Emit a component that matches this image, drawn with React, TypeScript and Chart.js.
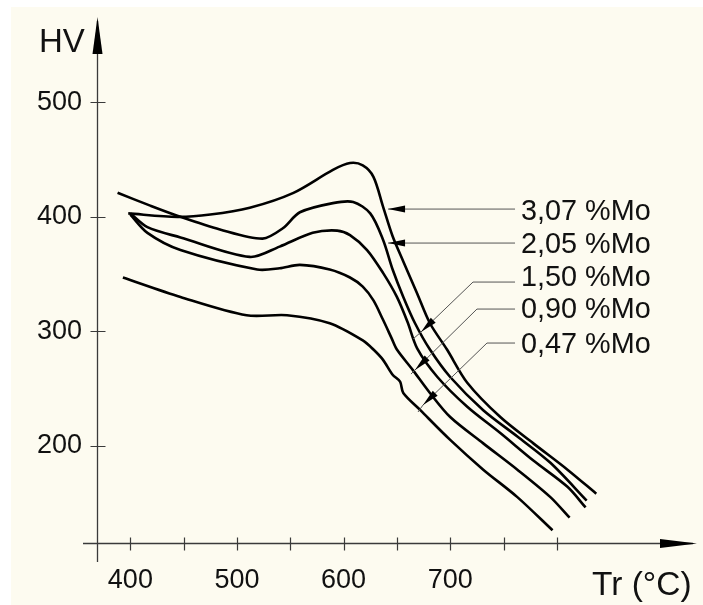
import React, { useEffect, useRef } from "react";
import { Chart, registerables } from "chart.js";

Chart.register(...registerables);

// ---- data ----
const X_TICKS = [400, 450, 500, 550, 600, 650, 700, 750, 800];
const X_LABELS = [400, 500, 600, 700];
const Y_TICKS = [200, 300, 400, 500];
const X_TITLE = "Tr (°C)";
const Y_TITLE = "HV";

const SERIES_NAMES = ["3,07 %Mo", "2,05 %Mo", "1,50 %Mo", "0,90 %Mo", "0,47 %Mo"];

const T_307 = [398, 444, 475, 512, 553, 590, 606, 618, 628, 637, 646, 656, 669, 681, 697, 716, 747, 778, 810, 837];
const HV_307 = [403, 400, 402, 408, 421, 441, 447, 445, 435, 409, 383, 361, 333, 307, 284, 255, 225, 202, 179, 158];

const T_205 = [388, 418, 444, 484, 524, 543, 559, 590, 609, 625, 637, 646, 656, 667, 681, 700, 731, 763, 794, 828];
const HV_205 = [421, 410, 401, 389, 381, 390, 404, 412, 413, 403, 380, 354, 330, 307, 284, 260, 231, 208, 185, 152];

const T_150 = [400, 416, 447, 512, 540, 571, 594, 606, 622, 637, 650, 660, 669, 688, 716, 747, 778, 810, 827];
const HV_150 = [403, 391, 382, 365, 374, 386, 388, 384, 371, 351, 330, 308, 285, 260, 234, 211, 187, 164, 146];

const T_090 = [400, 416, 447, 519, 540, 559, 587, 606, 618, 628, 637, 645, 650, 665, 681, 700, 731, 763, 794, 812];
const HV_090 = [402, 386, 371, 354, 355, 358, 354, 347, 339, 327, 310, 294, 284, 266, 246, 225, 202, 179, 155, 137];

const T_047 = [393, 447, 509, 547, 587, 618, 628, 637, 646, 653, 656, 672, 700, 731, 763, 796];
const HV_047 = [347, 330, 314, 314, 307, 292, 284, 275, 262, 256, 246, 231, 205, 179, 155, 126];

const SERIES_T = [T_307, T_205, T_150, T_090, T_047];
const SERIES_HV = [HV_307, HV_205, HV_150, HV_090, HV_047];

// ---- layout / style (not data) ----
const FONT = "'Liberation Sans', Arial, Helvetica, sans-serif";
const BG = "#fdfbf0";
const X_MIN = 368.7;
const X_MAX = 931.5;
const Y_MIN = 114.9;
const Y_MAX = 574.7;

// leader geometry in axis units: start -> ... -> tip, then tail
const LEADERS = [
  { textY: 220, path: [[760.8, 406.8], [641.7, 406.8]], tail: null },
  { textY: 253, path: [[760.8, 377.1], [641.7, 377.1]], tail: null },
  { textY: 286, path: [[760.8, 343.0], [721.4, 343.0], [672.6, 299.3]], tail: [665.1, 293.2] },
  { textY: 318, path: [[760.8, 319.4], [725.1, 319.4], [667.0, 266.1]], tail: [663.2, 262.6] },
  { textY: 353, path: [[760.8, 289.7], [734.5, 289.7], [674.5, 235.5]], tail: [669.8, 229.4] },
];

function arrowHead(ctx: CanvasRenderingContext2D, fromX: number, fromY: number, tipX: number, tipY: number, len: number, half: number) {
  const dx = tipX - fromX;
  const dy = tipY - fromY;
  const d = Math.hypot(dx, dy) || 1;
  const ux = dx / d;
  const uy = dy / d;
  const bx = tipX - ux * len;
  const by = tipY - uy * len;
  ctx.beginPath();
  ctx.moveTo(tipX, tipY);
  ctx.lineTo(bx - uy * half, by + ux * half);
  ctx.lineTo(bx + uy * half, by - ux * half);
  ctx.closePath();
  ctx.fill();
}

const decorPlugin = {
  id: "decor",
  beforeDraw(chart: any) {
    const { ctx, width, height } = chart;
    ctx.save();
    ctx.fillStyle = "#ffffff";
    ctx.fillRect(0, 0, width, height);
    ctx.fillStyle = BG;
    ctx.fillRect(11, 7, width - 11, height - 7);
    ctx.restore();
  },
  afterDatasetsDraw(chart: any) {
    const { ctx, chartArea } = chart;
    const xs = chart.scales.x;
    const ys = chart.scales.y;
    const left = Math.round(chartArea.left) + 0.5;
    const bottom = Math.round(chartArea.bottom) + 0.5;
    ctx.save();
    // axes
    ctx.strokeStyle = "#3a3a3a";
    ctx.lineWidth = 1.3;
    ctx.beginPath();
    ctx.moveTo(83, bottom);
    ctx.lineTo(chartArea.right - 4, bottom);
    ctx.moveTo(left, chartArea.top + 4);
    ctx.lineTo(left, 562);
    ctx.stroke();
    // ticks
    ctx.lineWidth = 1.2;
    ctx.beginPath();
    X_TICKS.forEach((v) => {
      const p = Math.round(xs.getPixelForValue(v)) + 0.5;
      ctx.moveTo(p, bottom - 6);
      ctx.lineTo(p, bottom + 7);
    });
    Y_TICKS.forEach((v) => {
      const p = Math.round(ys.getPixelForValue(v)) + 0.5;
      ctx.moveTo(left - 7, p);
      ctx.lineTo(left + 8, p);
    });
    ctx.stroke();
    // axis arrows
    ctx.fillStyle = "#000";
    ctx.beginPath();
    ctx.moveTo(chartArea.right, bottom);
    ctx.lineTo(chartArea.right - 37, bottom - 4.5);
    ctx.lineTo(chartArea.right - 37, bottom + 4.5);
    ctx.closePath();
    ctx.fill();
    ctx.beginPath();
    ctx.moveTo(left, chartArea.top);
    ctx.lineTo(left - 5, chartArea.top + 37);
    ctx.lineTo(left + 5, chartArea.top + 37);
    ctx.closePath();
    ctx.fill();
    // axis titles
    ctx.fillStyle = "#111";
    ctx.textBaseline = "alphabetic";
    ctx.textAlign = "left";
    ctx.font = `33px ${FONT}`;
    ctx.fillText(Y_TITLE, 39, 52);
    ctx.font = `33.5px ${FONT}`;
    ctx.fillText(X_TITLE, 592, 595);
    // leaders
    LEADERS.forEach((ld, i) => {
      const pts = ld.path.map(([t, h]) => [xs.getPixelForValue(t), ys.getPixelForValue(h)]);
      ctx.strokeStyle = "#555";
      ctx.lineWidth = 1;
      ctx.beginPath();
      ctx.moveTo(pts[0][0], pts[0][1]);
      for (let k = 1; k < pts.length; k++) ctx.lineTo(pts[k][0], pts[k][1]);
      const tip = pts[pts.length - 1];
      const prev = pts[pts.length - 2];
      if (ld.tail) {
        const tx = xs.getPixelForValue(ld.tail[0]);
        const ty = ys.getPixelForValue(ld.tail[1]);
        ctx.lineTo(tx, ty);
      }
      ctx.stroke();
      ctx.fillStyle = "#000";
      arrowHead(ctx, prev[0], prev[1], tip[0], tip[1], 17, 3.5);
      ctx.fillStyle = "#111";
      ctx.font = `28.8px ${FONT}`;
      ctx.textAlign = "left";
      ctx.textBaseline = "alphabetic";
      ctx.fillText(SERIES_NAMES[i], 521, ld.textY);
    });
    ctx.restore();
  },
};

export default function App() {
  const ref = useRef<HTMLCanvasElement | null>(null);
  useEffect(() => {
    if (!ref.current) return;
    const datasets = SERIES_NAMES.map((name, i) => ({
      label: name,
      data: SERIES_T[i].map((t, k) => ({ x: t, y: SERIES_HV[i][k] })),
      borderColor: "#000",
      borderWidth: 2.6,
      pointRadius: 0,
      showLine: true,
      fill: false,
      tension: 0.3,
    }));
    const chart = new Chart(ref.current, {
      type: "scatter",
      data: { datasets },
      options: {
        animation: false,
        responsive: false,
        events: [],
        layout: { padding: { left: 0, top: 17, right: 6, bottom: 0 } },
        plugins: { legend: { display: false }, tooltip: { enabled: false }, title: { display: false } },
        scales: {
          x: {
            type: "linear",
            position: "bottom",
            min: X_MIN,
            max: X_MAX,
            afterBuildTicks: (s: any) => {
              s.ticks = X_TICKS.map((v) => ({ value: v }));
            },
            afterFit: (s: any) => {
              s.height = 62;
              s.paddingLeft = 0;
              s.paddingRight = 0;
              s.paddingTop = 0;
              s.paddingBottom = 0;
            },
            grid: { display: false, drawTicks: false },
            border: { display: false },
            ticks: {
              autoSkip: false,
              maxRotation: 0,
              padding: 21,
              color: "#111",
              font: { family: FONT, size: 27 },
              callback: (v: any) => (X_LABELS.includes(Number(v)) ? String(v) : ""),
            },
          },
          y: {
            type: "linear",
            position: "left",
            min: Y_MIN,
            max: Y_MAX,
            afterBuildTicks: (s: any) => {
              s.ticks = Y_TICKS.map((v) => ({ value: v }));
            },
            afterFit: (s: any) => {
              s.width = 97;
              s.paddingLeft = 0;
              s.paddingRight = 0;
              s.paddingTop = 0;
              s.paddingBottom = 0;
            },
            grid: { display: false, drawTicks: false },
            border: { display: false },
            ticks: {
              autoSkip: false,
              padding: 15,
              color: "#111",
              font: { family: FONT, size: 27 },
              callback: (v: any) => String(v),
            },
          },
        },
      },
      plugins: [decorPlugin],
    });
    return () => chart.destroy();
  }, []);
  return (
    <div style={{ position: "absolute", left: 0, top: 0, width: 703, height: 605 }}>
      <canvas ref={ref} width={703} height={605} style={{ display: "block", width: 703, height: 605 }} />
    </div>
  );
}
